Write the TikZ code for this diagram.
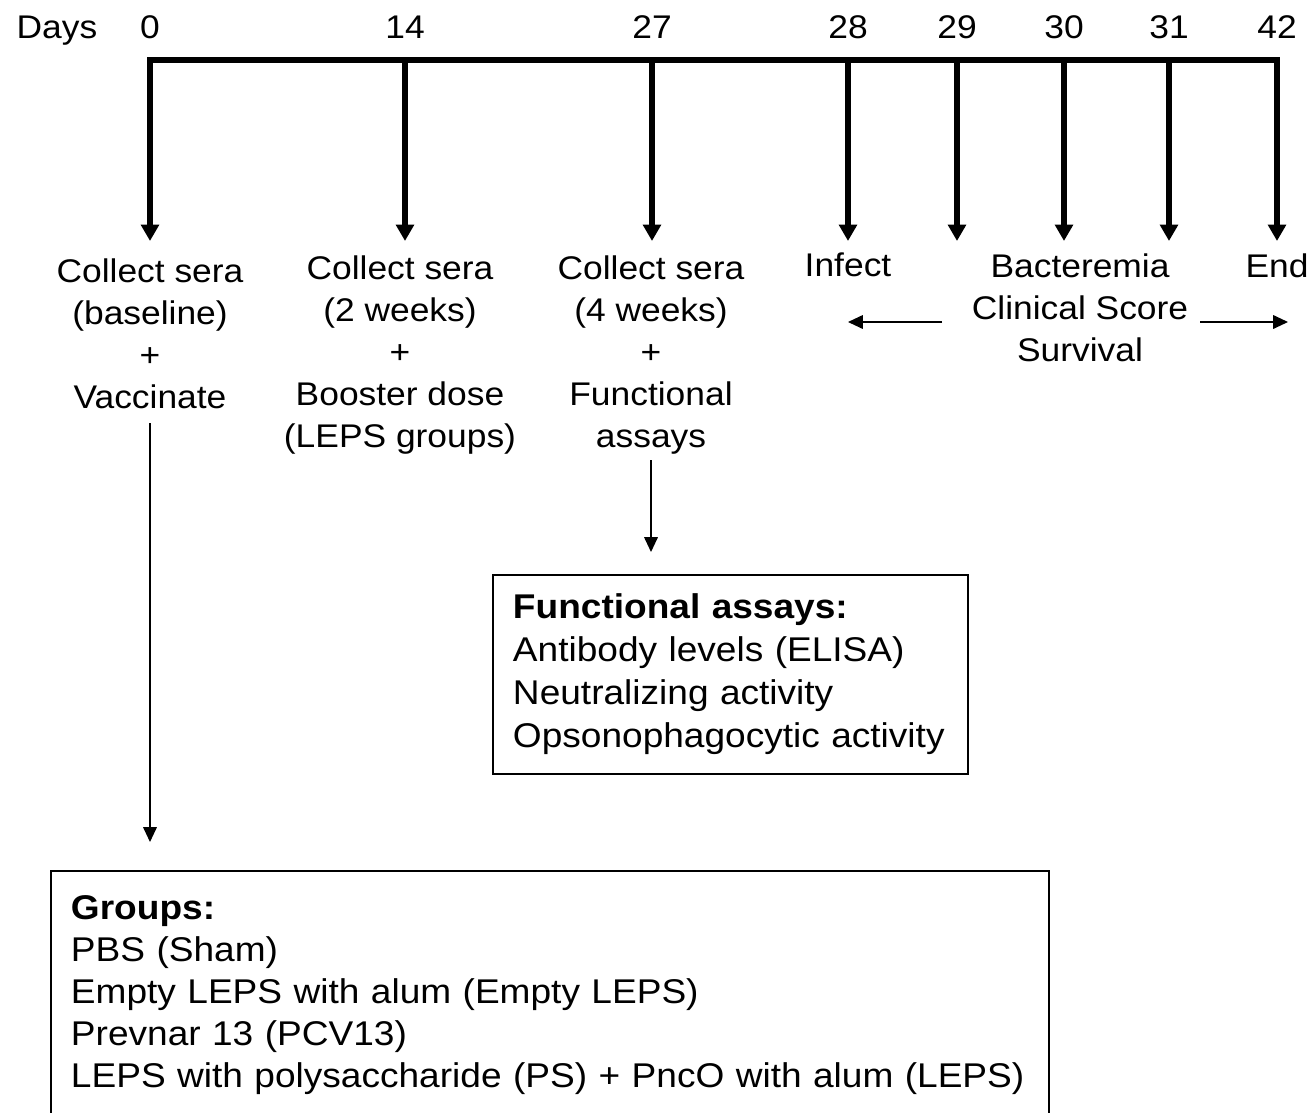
\documentclass[tikz,border=0pt]{standalone}
\usepackage{fontspec}
\setmainfont{Liberation Sans}[FakeStretch=1.08]
\usetikzlibrary{arrows.meta}
\tikzset{
  lbl/.style={font=\fontsize{23.3}{29.9}\selectfont,align=center,inner sep=0pt},
  daytick/.style={line width=0.15cm,-{Triangle[width=0.44cm,length=0.41cm]}},
  thinarr/.style={line width=0.035cm,-{Triangle[width=0.34cm,length=0.37cm]}},
  infobox/.style={draw,line width=1.4pt,anchor=north west,align=left,inner xsep=0.5cm,inner ysep=0pt,font=\fontsize{24.4}{30.6}\selectfont}
}
\begin{document}
\begin{tikzpicture}[x=0.025cm,y=-0.025cm]
   \useasboundingbox (0,0) rectangle (1314,1112);
   \node[lbl,anchor=base] (days) at (57,38) {Days};
   \foreach \d/\x in {0/150,14/405,27/652,28/848,29/957,30/1064,31/1169,42/1277}{
      \node[lbl,anchor=base] (n\d) at (\x,38) {\d};
      \coordinate (d\d) at (\x,60);
      \coordinate (t\d) at (\x,241);
      \draw[daytick] (d\d) -- (t\d);
   }
   \draw[line width=0.15cm,line cap=rect] (d0) -- (d42);
   \node[lbl,anchor=north] (c0) at (150,258) {Collect sera\\(baseline)\\+\\Vaccinate};
   \node[lbl,anchor=north] (c14) at (400,255) {Collect sera\\(2 weeks)\\+\\Booster dose\\(LEPS groups)};
   \node[lbl,anchor=north] (c27) at (651,255) {Collect sera\\(4 weeks)\\+\\Functional\\assays};
   \node[lbl,anchor=north] (inf) at (848,253) {Infect};
   \node[lbl,anchor=north] (bac) at (1080,253) {Bacteremia\\Clinical Score\\Survival};
   \node[lbl,anchor=north] (fin) at (1277,253) {End};
   \coordinate (la) at (942,322);
   \coordinate (lb) at (848,322);
   \coordinate (ra) at (1200,322);
   \coordinate (rb) at (1288,322);
   \draw[thinarr] (la) -- (lb);
   \draw[thinarr] (ra) -- (rb);
   \node[infobox,text width=10.875cm,minimum height=4.975cm] (fa) at (492,574)
      {\textbf{Functional assays:}\\Antibody levels (ELISA)\\Neutralizing activity\\Opsonophagocytic activity};
   \node[infobox,text width=23.95cm,minimum height=6.2cm,font=\fontsize{24.4}{29.9}\selectfont] (grp) at (50,870)
      {\textbf{Groups:}\\PBS (Sham)\\Empty LEPS with alum (Empty LEPS)\\Prevnar 13 (PCV13)\\LEPS with polysaccharide (PS) + PncO with alum (LEPS)};
   \draw[thinarr,shorten <=0.36cm,shorten >=0.7cm] (c0.south) -- (c0.south |- grp.north);
   \draw[thinarr,shorten <=0.15cm,shorten >=0.55cm] (c27.south) -- (c27.south |- fa.north);
\end{tikzpicture}
\end{document}
